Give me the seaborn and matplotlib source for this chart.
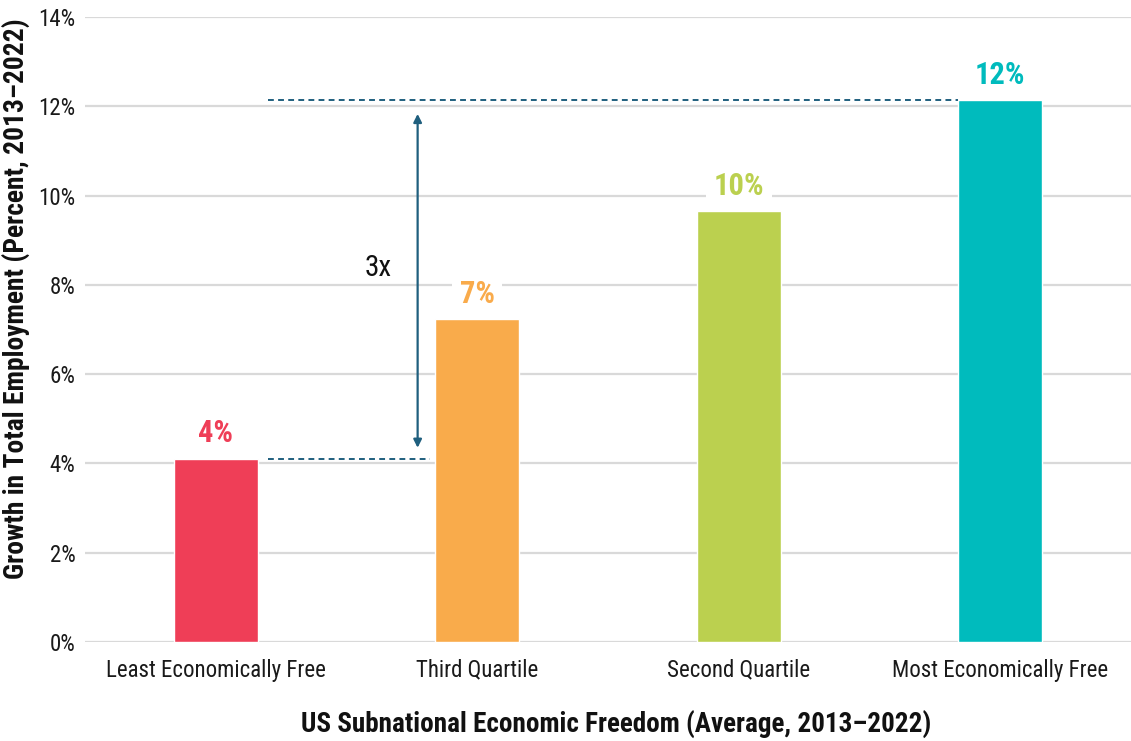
import matplotlib
matplotlib.use("Agg")
import matplotlib.pyplot as plt
import seaborn as sns
import pandas as pd
from matplotlib.ticker import FuncFormatter

# Employment growth by economic-freedom quartile
categories = ["Least Economically Free", "Third Quartile", "Second Quartile", "Most Economically Free"]
growth = [4.1, 7.23, 9.65, 12.13]
value_labels = ["4%", "7%", "10%", "12%"]
colors = ["#EF3E57", "#F9AB4B", "#BBD04F", "#00BBBD"]
y_ticks = [0, 2, 4, 6, 8, 10, 12, 14]

sns.set_theme(style="white")
plt.rcParams["font.family"] = ["Roboto Condensed", "Liberation Sans Narrow", "Roboto", "DejaVu Sans"]

df = pd.DataFrame({"category": categories, "growth": growth})

fig = plt.figure(figsize=(11.31, 7.41), dpi=100)
ax = fig.add_axes([85 / 1131, 1 - 642 / 741, 1 - 85 / 1131, (642 - 17) / 741])

sns.barplot(data=df, x="category", y="growth", hue="category", palette=colors,
            width=0.32, saturation=1, legend=False, ax=ax, zorder=3)

ax.set_xlim(-0.5, 3.5)
ax.set_ylim(0, 14)
ax.set_yticks(y_ticks)
ax.yaxis.set_major_formatter(FuncFormatter(lambda v, _: f"{v:.0f}%"))
ax.grid(axis="y", color="#d9d9d9", linewidth=1.6, zorder=0)
ax.set_axisbelow(True)
for s in ax.spines.values():
    s.set_visible(False)
ax.tick_params(axis="both", length=0, labelsize=16.5, colors="#1a1a1a")
ax.tick_params(axis="y", pad=7)
ax.tick_params(axis="x", pad=12)

ax.set_xlabel("US Subnational Economic Freedom (Average, 2013\u20132022)",
              fontsize=19.5, fontweight="bold", color="#111111")
ax.xaxis.set_label_coords(0.508, -0.11)
ax.set_ylabel("Growth in Total Employment (Percent, 2013\u20132022)",
              fontsize=19.8, fontweight="bold", color="#111111")
ax.yaxis.set_label_coords(-0.0525, 0.549)

# Value labels above bars
for i, (v, lab, c) in enumerate(zip(growth, value_labels, colors)):
    ax.annotate(lab, xy=(i, v), xytext=(0, 12), textcoords="offset points",
                ha="center", va="baseline", fontsize=22, fontweight="bold", color=c,
                bbox=dict(boxstyle="square,pad=0.25", fc="white", ec="none"), zorder=4)

# Comparison guides between the least and most free groups
line_color = "#1F5F7E"
half = 0.16
ax.plot([0 + half + 0.04, 3 - half], [growth[3], growth[3]], color=line_color,
        linestyle=(0, (3, 2.2)), linewidth=1.4, zorder=4)
ax.plot([0 + half + 0.04, 1 - half - 0.02], [growth[0], growth[0]], color=line_color,
        linestyle=(0, (3, 2.2)), linewidth=1.4, zorder=4)
ax.annotate("", xy=(0.772, growth[3] - 0.3), xytext=(0.772, growth[0] + 0.25),
            arrowprops=dict(arrowstyle="<|-|>", color=line_color, lw=1.6,
                            mutation_scale=12, shrinkA=0, shrinkB=0), zorder=4)
ax.text(0.62, 8.38, "3x", fontsize=21, color="#111111", ha="center", va="center", zorder=4)

fig.savefig("out.png", dpi=100)
